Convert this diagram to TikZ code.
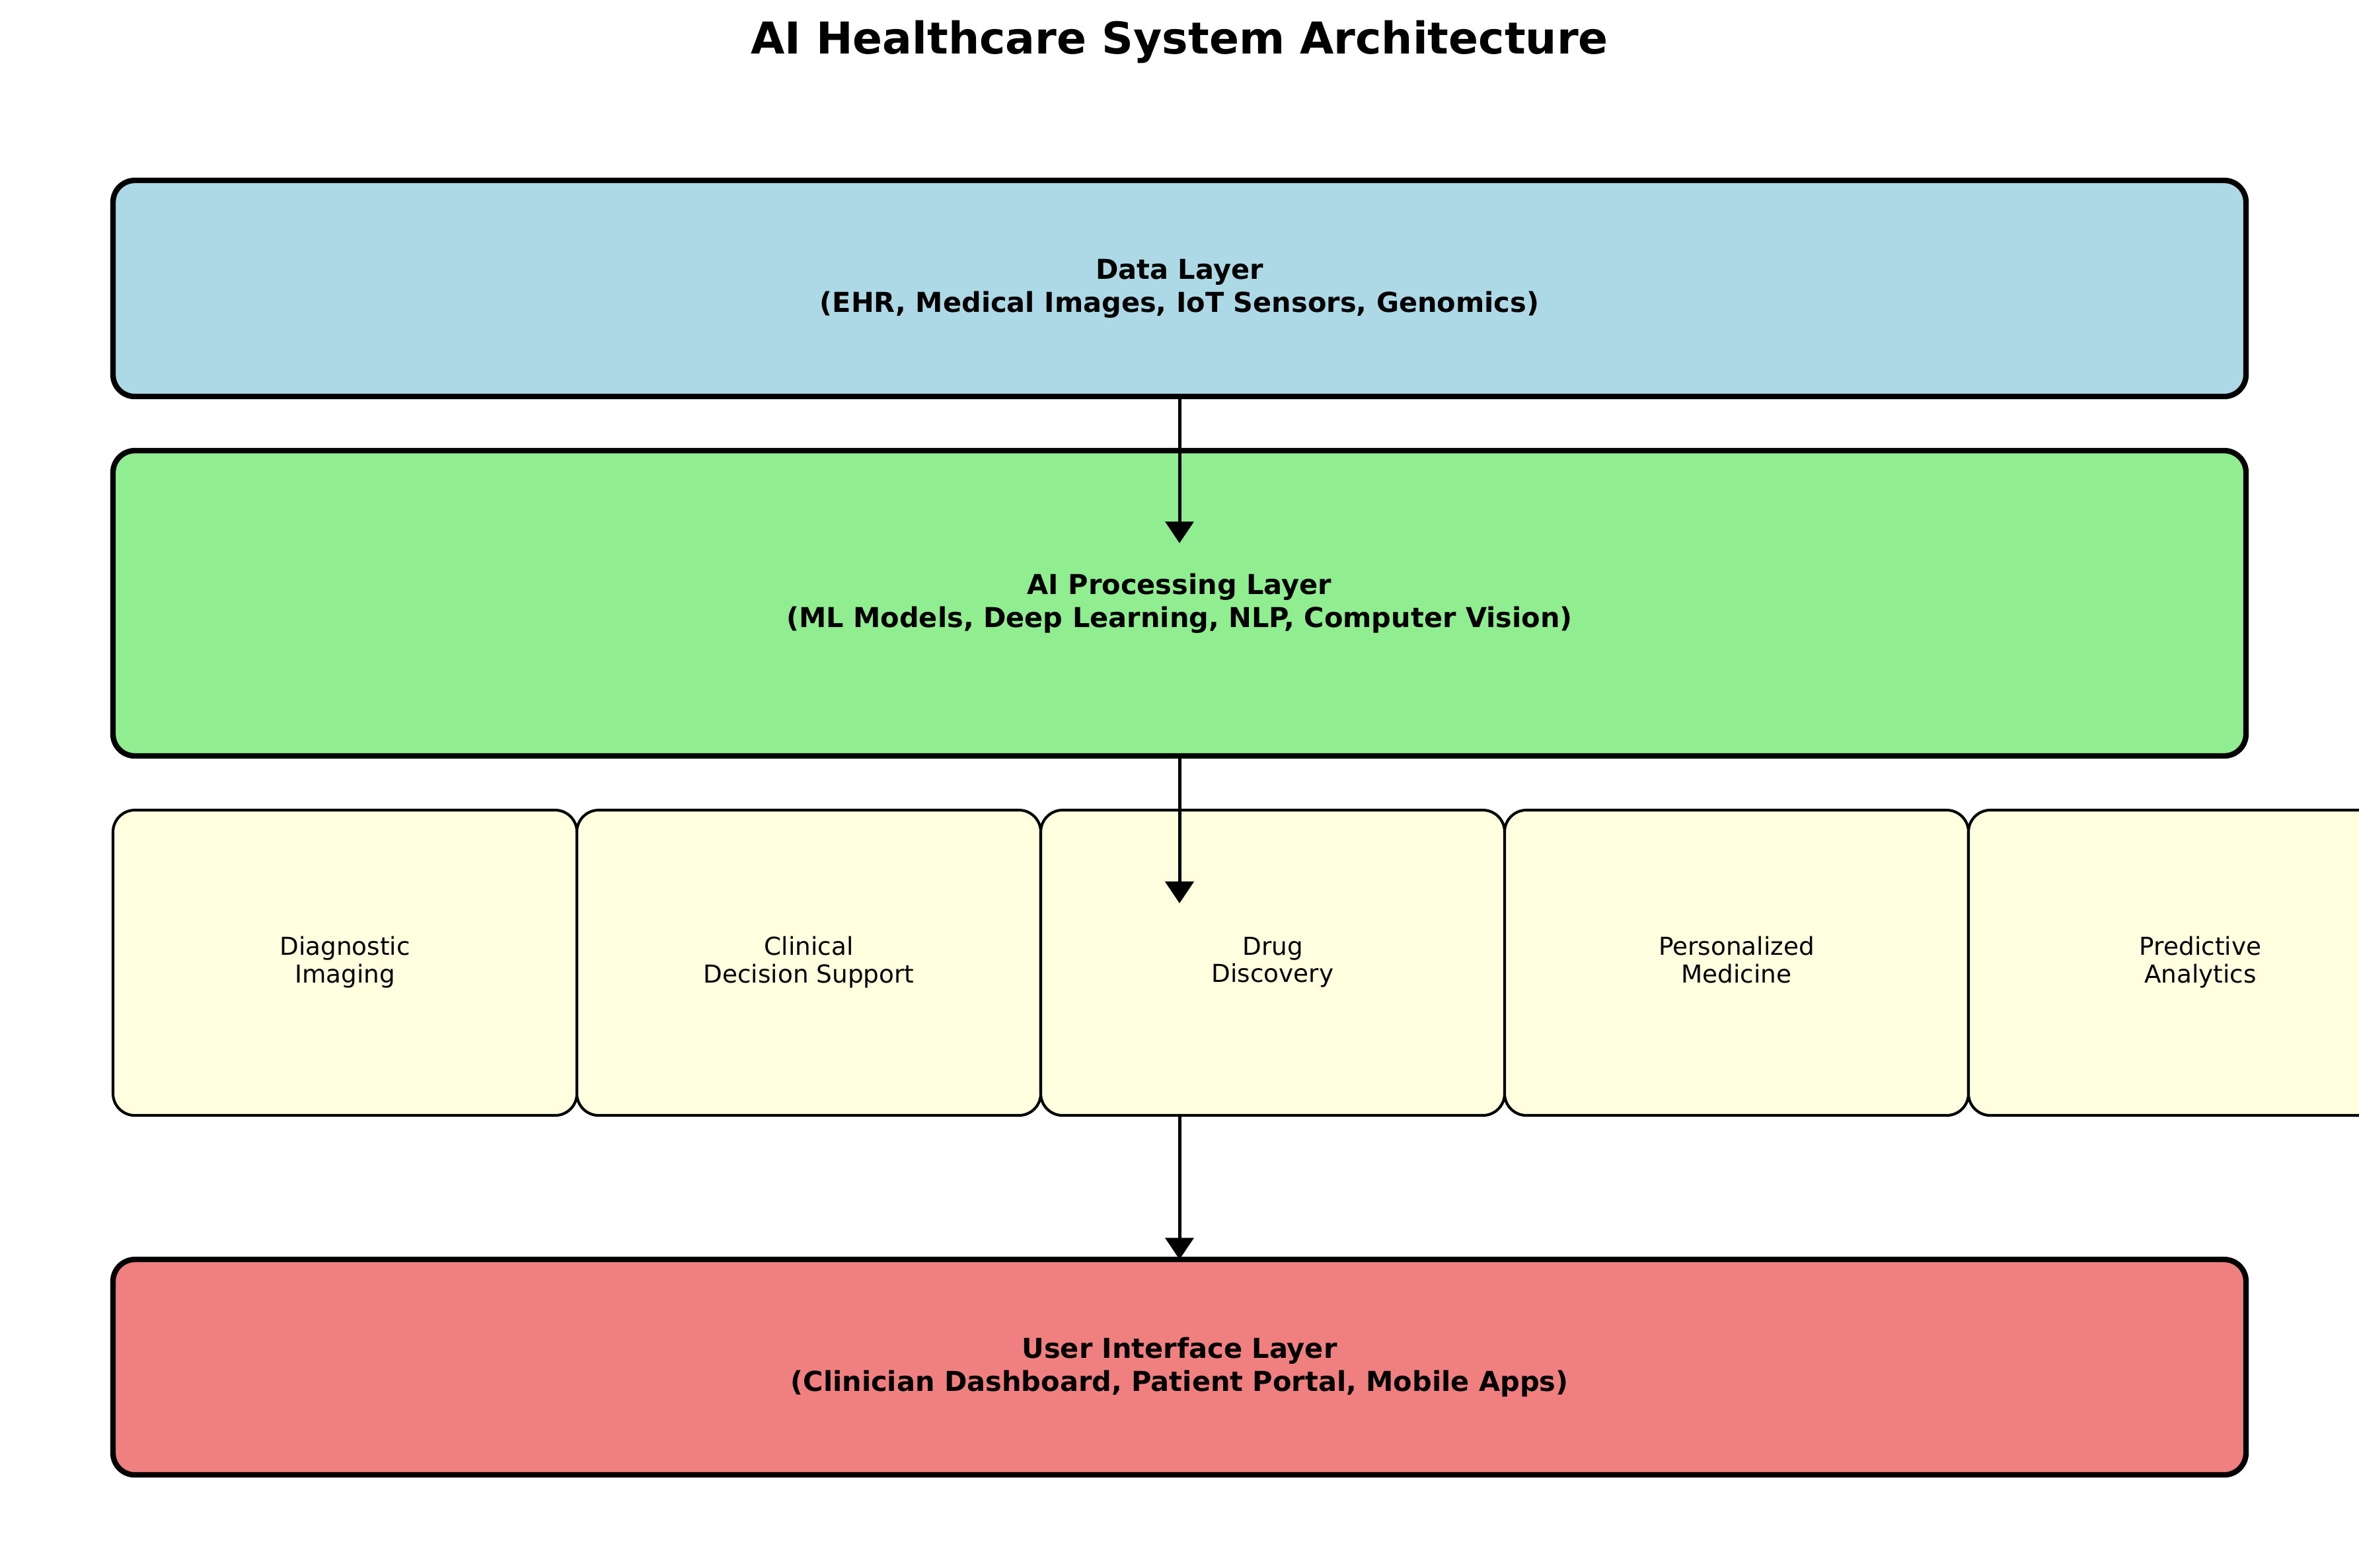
\documentclass[tikz,border=0pt]{standalone}
\usepackage{fontspec}
\setmainfont{DejaVu Sans}
\usetikzlibrary{arrows.meta}
\definecolor{dataclr}{HTML}{ADD8E6}
\definecolor{procclr}{HTML}{90EE90}
\definecolor{appclr}{HTML}{FFFFE0}
\definecolor{uiclr}{HTML}{F08080}

\begin{document}
\begin{tikzpicture}[>={Triangle[length=7.9pt,width=10.3pt]},inner sep=0pt,outer sep=0pt,
  layer/.style={draw,line width=2pt,rounded corners=0.28cm,minimum width=27.33cm,
    align=center,font=\fontsize{10}{12}\selectfont\bfseries},
  app/.style={draw,line width=1pt,rounded corners=0.28cm,fill=appclr,
    minimum width=5.944cm,minimum height=3.912cm,align=center,
    font=\fontsize{9}{10}\selectfont,
    execute at begin node={\rule{0pt}{8.8pt}},execute at end node={\rule[-2.2pt]{0pt}{0pt}}},
  flow/.style={->,line width=1.2pt}]
\useasboundingbox (0,0) rectangle (30.226,-20.091);
\fill[white] (0,0) rectangle (30.226,-20.091);
\clip (0,0) rectangle (30.226,-20.091);
\node[anchor=base,font=\fontsize{16}{19}\selectfont\bfseries] (title) at (15.113,-0.694) {AI Healthcare System Architecture};
%
\node[layer,fill=dataclr,minimum height=2.769cm] (data) at (15.113,-3.696) {Data Layer\\(EHR, Medical Images, IoT Sensors, Genomics)};
\node[layer,fill=procclr,minimum height=3.912cm] (proc) at (15.113,-7.730) {AI Processing Layer\\(ML Models, Deep Learning, NLP, Computer Vision)};
%
\node[app] (app1) at (4.420,-12.336) {Diagnostic\\Imaging};
\node[app] (app2) at (10.363,-12.336) {Clinical\\Decision Support};
\node[app] (app3) at (16.307,-12.336) {Drug\\Discovery};
\node[app] (app4) at (22.250,-12.336) {Personalized\\Medicine};
\node[app] (app5) at (28.194,-12.336) {Predictive\\Analytics};
%
\node[layer,fill=uiclr,minimum height=2.760cm] (ui) at (15.113,-17.518) {User Interface Layer\\(Clinician Dashboard, Patient Portal, Mobile Apps)};
%%
\coordinate (t1) at (15.113,-6.960);
\coordinate (t2) at (15.113,-11.574);
\draw[flow] (data.south) -- (t1);
\draw[flow] (proc.south) -- (t2);
\draw[flow] (ui.north |- app3.south) -- (ui.north);
\end{tikzpicture}
\end{document}
